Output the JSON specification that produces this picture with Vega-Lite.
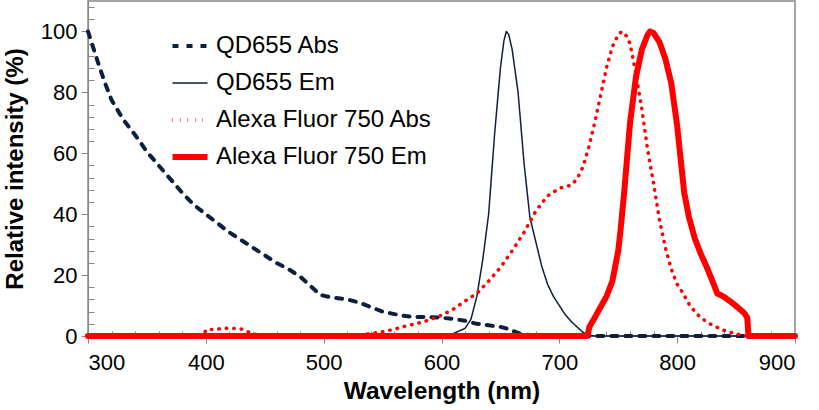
{
  "$schema": "https://vega.github.io/schema/vega-lite/v6.json",
  "autosize": {"type": "none"},
  "width": 707,
  "height": 335,
  "padding": {"left": 88, "top": 1, "right": 24, "bottom": 74},
  "background": "white",
  "config": {
    "font": "Liberation Sans",
    "view": {"stroke": "#888888", "strokeWidth": 1.5},
    "line": {"strokeCap": "round", "strokeJoin": "round", "clip": true},
    "axis": {"grid": false, "domainColor": "#888888", "tickColor": "#888888", "labelColor": "#000000", "titleColor": "#000000", "labelFont": "Liberation Sans", "titleFont": "Liberation Sans"}
  },
  "datasets": {
    "spectra": [
      {"series": "QD655 Abs", "wl": 300, "intensity": 100},
      {"series": "QD655 Abs", "wl": 305, "intensity": 94},
      {"series": "QD655 Abs", "wl": 310, "intensity": 88},
      {"series": "QD655 Abs", "wl": 315, "intensity": 82.5},
      {"series": "QD655 Abs", "wl": 320, "intensity": 77.5},
      {"series": "QD655 Abs", "wl": 330, "intensity": 71},
      {"series": "QD655 Abs", "wl": 340, "intensity": 66},
      {"series": "QD655 Abs", "wl": 350, "intensity": 60.5},
      {"series": "QD655 Abs", "wl": 360, "intensity": 56},
      {"series": "QD655 Abs", "wl": 370, "intensity": 51.5},
      {"series": "QD655 Abs", "wl": 380, "intensity": 47},
      {"series": "QD655 Abs", "wl": 390, "intensity": 43},
      {"series": "QD655 Abs", "wl": 400, "intensity": 40},
      {"series": "QD655 Abs", "wl": 410, "intensity": 37},
      {"series": "QD655 Abs", "wl": 420, "intensity": 34},
      {"series": "QD655 Abs", "wl": 430, "intensity": 31.5},
      {"series": "QD655 Abs", "wl": 440, "intensity": 29},
      {"series": "QD655 Abs", "wl": 450, "intensity": 26.5},
      {"series": "QD655 Abs", "wl": 460, "intensity": 24},
      {"series": "QD655 Abs", "wl": 470, "intensity": 22},
      {"series": "QD655 Abs", "wl": 480, "intensity": 19.5},
      {"series": "QD655 Abs", "wl": 490, "intensity": 16},
      {"series": "QD655 Abs", "wl": 497, "intensity": 13.5},
      {"series": "QD655 Abs", "wl": 505, "intensity": 12.8},
      {"series": "QD655 Abs", "wl": 520, "intensity": 12},
      {"series": "QD655 Abs", "wl": 530, "intensity": 11},
      {"series": "QD655 Abs", "wl": 540, "intensity": 9.5},
      {"series": "QD655 Abs", "wl": 550, "intensity": 8},
      {"series": "QD655 Abs", "wl": 565, "intensity": 6.8},
      {"series": "QD655 Abs", "wl": 575, "intensity": 6.3},
      {"series": "QD655 Abs", "wl": 590, "intensity": 6.2},
      {"series": "QD655 Abs", "wl": 600, "intensity": 6},
      {"series": "QD655 Abs", "wl": 610, "intensity": 5.6},
      {"series": "QD655 Abs", "wl": 620, "intensity": 5},
      {"series": "QD655 Abs", "wl": 630, "intensity": 4},
      {"series": "QD655 Abs", "wl": 640, "intensity": 3.5},
      {"series": "QD655 Abs", "wl": 650, "intensity": 3},
      {"series": "QD655 Abs", "wl": 655, "intensity": 2.5},
      {"series": "QD655 Abs", "wl": 660, "intensity": 1.8},
      {"series": "QD655 Abs", "wl": 665, "intensity": 1},
      {"series": "QD655 Abs", "wl": 670, "intensity": 0.5},
      {"series": "QD655 Abs", "wl": 680, "intensity": 0.2},
      {"series": "QD655 Abs", "wl": 690, "intensity": 0},
      {"series": "QD655 Abs", "wl": 860, "intensity": 0},

      {"series": "QD655 Em", "wl": 300, "intensity": 0},
      {"series": "QD655 Em", "wl": 590, "intensity": 0},
      {"series": "QD655 Em", "wl": 600, "intensity": 0.2},
      {"series": "QD655 Em", "wl": 610, "intensity": 0.8},
      {"series": "QD655 Em", "wl": 620, "intensity": 2.5},
      {"series": "QD655 Em", "wl": 625, "intensity": 5.5},
      {"series": "QD655 Em", "wl": 630, "intensity": 13},
      {"series": "QD655 Em", "wl": 635, "intensity": 25},
      {"series": "QD655 Em", "wl": 640, "intensity": 40},
      {"series": "QD655 Em", "wl": 645, "intensity": 66},
      {"series": "QD655 Em", "wl": 650, "intensity": 88},
      {"series": "QD655 Em", "wl": 653, "intensity": 97},
      {"series": "QD655 Em", "wl": 655, "intensity": 100},
      {"series": "QD655 Em", "wl": 657, "intensity": 99},
      {"series": "QD655 Em", "wl": 660, "intensity": 94},
      {"series": "QD655 Em", "wl": 665, "intensity": 80},
      {"series": "QD655 Em", "wl": 670, "intensity": 57},
      {"series": "QD655 Em", "wl": 675, "intensity": 39},
      {"series": "QD655 Em", "wl": 680, "intensity": 31},
      {"series": "QD655 Em", "wl": 685, "intensity": 23},
      {"series": "QD655 Em", "wl": 690, "intensity": 17},
      {"series": "QD655 Em", "wl": 695, "intensity": 13},
      {"series": "QD655 Em", "wl": 700, "intensity": 10},
      {"series": "QD655 Em", "wl": 705, "intensity": 7},
      {"series": "QD655 Em", "wl": 710, "intensity": 4.8},
      {"series": "QD655 Em", "wl": 715, "intensity": 3},
      {"series": "QD655 Em", "wl": 720, "intensity": 1.2},
      {"series": "QD655 Em", "wl": 725, "intensity": 0.3},
      {"series": "QD655 Em", "wl": 730, "intensity": 0},
      {"series": "QD655 Em", "wl": 900, "intensity": 0},

      {"series": "Alexa Fluor 750 Abs", "wl": 300, "intensity": 0},
      {"series": "Alexa Fluor 750 Abs", "wl": 398, "intensity": 0},
      {"series": "Alexa Fluor 750 Abs", "wl": 400, "intensity": 2},
      {"series": "Alexa Fluor 750 Abs", "wl": 410, "intensity": 2.3},
      {"series": "Alexa Fluor 750 Abs", "wl": 420, "intensity": 2.6},
      {"series": "Alexa Fluor 750 Abs", "wl": 430, "intensity": 2.3},
      {"series": "Alexa Fluor 750 Abs", "wl": 435, "intensity": 1.5},
      {"series": "Alexa Fluor 750 Abs", "wl": 440, "intensity": 0.7},
      {"series": "Alexa Fluor 750 Abs", "wl": 450, "intensity": 0.2},
      {"series": "Alexa Fluor 750 Abs", "wl": 460, "intensity": 0},
      {"series": "Alexa Fluor 750 Abs", "wl": 520, "intensity": 0},
      {"series": "Alexa Fluor 750 Abs", "wl": 528, "intensity": 0.3},
      {"series": "Alexa Fluor 750 Abs", "wl": 540, "intensity": 0.8},
      {"series": "Alexa Fluor 750 Abs", "wl": 550, "intensity": 1.4},
      {"series": "Alexa Fluor 750 Abs", "wl": 560, "intensity": 2.2},
      {"series": "Alexa Fluor 750 Abs", "wl": 570, "intensity": 3.3},
      {"series": "Alexa Fluor 750 Abs", "wl": 580, "intensity": 4.2},
      {"series": "Alexa Fluor 750 Abs", "wl": 590, "intensity": 5.3},
      {"series": "Alexa Fluor 750 Abs", "wl": 600, "intensity": 6.8},
      {"series": "Alexa Fluor 750 Abs", "wl": 610, "intensity": 8.8},
      {"series": "Alexa Fluor 750 Abs", "wl": 620, "intensity": 11.5},
      {"series": "Alexa Fluor 750 Abs", "wl": 630, "intensity": 14},
      {"series": "Alexa Fluor 750 Abs", "wl": 640, "intensity": 18},
      {"series": "Alexa Fluor 750 Abs", "wl": 650, "intensity": 22.5},
      {"series": "Alexa Fluor 750 Abs", "wl": 660, "intensity": 28},
      {"series": "Alexa Fluor 750 Abs", "wl": 670, "intensity": 34},
      {"series": "Alexa Fluor 750 Abs", "wl": 680, "intensity": 41},
      {"series": "Alexa Fluor 750 Abs", "wl": 690, "intensity": 46},
      {"series": "Alexa Fluor 750 Abs", "wl": 700, "intensity": 48.5},
      {"series": "Alexa Fluor 750 Abs", "wl": 710, "intensity": 49.5},
      {"series": "Alexa Fluor 750 Abs", "wl": 715, "intensity": 51.5},
      {"series": "Alexa Fluor 750 Abs", "wl": 720, "intensity": 55.5},
      {"series": "Alexa Fluor 750 Abs", "wl": 725, "intensity": 62},
      {"series": "Alexa Fluor 750 Abs", "wl": 730, "intensity": 70},
      {"series": "Alexa Fluor 750 Abs", "wl": 735, "intensity": 79},
      {"series": "Alexa Fluor 750 Abs", "wl": 740, "intensity": 88},
      {"series": "Alexa Fluor 750 Abs", "wl": 745, "intensity": 95},
      {"series": "Alexa Fluor 750 Abs", "wl": 750, "intensity": 99},
      {"series": "Alexa Fluor 750 Abs", "wl": 753, "intensity": 100},
      {"series": "Alexa Fluor 750 Abs", "wl": 757, "intensity": 98.5},
      {"series": "Alexa Fluor 750 Abs", "wl": 760, "intensity": 96},
      {"series": "Alexa Fluor 750 Abs", "wl": 765, "intensity": 86},
      {"series": "Alexa Fluor 750 Abs", "wl": 770, "intensity": 74.5},
      {"series": "Alexa Fluor 750 Abs", "wl": 775, "intensity": 61},
      {"series": "Alexa Fluor 750 Abs", "wl": 780, "intensity": 50},
      {"series": "Alexa Fluor 750 Abs", "wl": 785, "intensity": 38},
      {"series": "Alexa Fluor 750 Abs", "wl": 790, "intensity": 29},
      {"series": "Alexa Fluor 750 Abs", "wl": 795, "intensity": 22},
      {"series": "Alexa Fluor 750 Abs", "wl": 800, "intensity": 17},
      {"series": "Alexa Fluor 750 Abs", "wl": 805, "intensity": 14},
      {"series": "Alexa Fluor 750 Abs", "wl": 810, "intensity": 10.5},
      {"series": "Alexa Fluor 750 Abs", "wl": 815, "intensity": 8},
      {"series": "Alexa Fluor 750 Abs", "wl": 820, "intensity": 6},
      {"series": "Alexa Fluor 750 Abs", "wl": 830, "intensity": 3.5},
      {"series": "Alexa Fluor 750 Abs", "wl": 840, "intensity": 1.8},
      {"series": "Alexa Fluor 750 Abs", "wl": 850, "intensity": 0.7},
      {"series": "Alexa Fluor 750 Abs", "wl": 855, "intensity": 0.3},
      {"series": "Alexa Fluor 750 Abs", "wl": 860, "intensity": 0},
      {"series": "Alexa Fluor 750 Abs", "wl": 900, "intensity": 0},

      {"series": "Alexa Fluor 750 Em", "wl": 300, "intensity": 0},
      {"series": "Alexa Fluor 750 Em", "wl": 724, "intensity": 0},
      {"series": "Alexa Fluor 750 Em", "wl": 725.5, "intensity": 3},
      {"series": "Alexa Fluor 750 Em", "wl": 730, "intensity": 6},
      {"series": "Alexa Fluor 750 Em", "wl": 735, "intensity": 9.5},
      {"series": "Alexa Fluor 750 Em", "wl": 740, "intensity": 13},
      {"series": "Alexa Fluor 750 Em", "wl": 745, "intensity": 18},
      {"series": "Alexa Fluor 750 Em", "wl": 750, "intensity": 28},
      {"series": "Alexa Fluor 750 Em", "wl": 752, "intensity": 35},
      {"series": "Alexa Fluor 750 Em", "wl": 755, "intensity": 47},
      {"series": "Alexa Fluor 750 Em", "wl": 760, "intensity": 70},
      {"series": "Alexa Fluor 750 Em", "wl": 765, "intensity": 85},
      {"series": "Alexa Fluor 750 Em", "wl": 770, "intensity": 94},
      {"series": "Alexa Fluor 750 Em", "wl": 775, "intensity": 99},
      {"series": "Alexa Fluor 750 Em", "wl": 777, "intensity": 100},
      {"series": "Alexa Fluor 750 Em", "wl": 780, "intensity": 99.5},
      {"series": "Alexa Fluor 750 Em", "wl": 785, "intensity": 96.5},
      {"series": "Alexa Fluor 750 Em", "wl": 790, "intensity": 91},
      {"series": "Alexa Fluor 750 Em", "wl": 795, "intensity": 83},
      {"series": "Alexa Fluor 750 Em", "wl": 800, "intensity": 69},
      {"series": "Alexa Fluor 750 Em", "wl": 803, "intensity": 58},
      {"series": "Alexa Fluor 750 Em", "wl": 806, "intensity": 47},
      {"series": "Alexa Fluor 750 Em", "wl": 810, "intensity": 39},
      {"series": "Alexa Fluor 750 Em", "wl": 815, "intensity": 32},
      {"series": "Alexa Fluor 750 Em", "wl": 820, "intensity": 27},
      {"series": "Alexa Fluor 750 Em", "wl": 825, "intensity": 22.7},
      {"series": "Alexa Fluor 750 Em", "wl": 830, "intensity": 18},
      {"series": "Alexa Fluor 750 Em", "wl": 834, "intensity": 14},
      {"series": "Alexa Fluor 750 Em", "wl": 840, "intensity": 12.8},
      {"series": "Alexa Fluor 750 Em", "wl": 847, "intensity": 10.8},
      {"series": "Alexa Fluor 750 Em", "wl": 852, "intensity": 9.2},
      {"series": "Alexa Fluor 750 Em", "wl": 857, "intensity": 7.5},
      {"series": "Alexa Fluor 750 Em", "wl": 859.5, "intensity": 6},
      {"series": "Alexa Fluor 750 Em", "wl": 860.5, "intensity": 0},
      {"series": "Alexa Fluor 750 Em", "wl": 900, "intensity": 0}
    ]
  },
  "data": {"name": "spectra"},
  "encoding": {
    "x": {"field": "wl", "type": "quantitative", "scale": {"domain": [300, 900], "nice": false, "zero": false}},
    "y": {"field": "intensity", "type": "quantitative", "scale": {"domain": [0, 110], "nice": false}},
    "color": {"field": "series", "type": "nominal", "scale": {"domain": ["QD655 Abs", "QD655 Em", "Alexa Fluor 750 Abs", "Alexa Fluor 750 Em"], "range": ["#0f1e3c", "#0f1e3c", "#ff0000", "#ff0000"]},
      "legend": {"orient": "none", "legendX": 90, "legendY": 33, "title": null, "labelFontSize": 24, "labelFont": "Liberation Sans", "labelColor": "#000000", "symbolType": "stroke", "symbolSize": 1225, "rowPadding": 13, "labelOffset": 14, "labelLimit": 400,
        "symbolFillColor": "transparent",
        "symbolStrokeWidth": {"expr": "datum.value === 'QD655 Abs' ? 4 : datum.value === 'QD655 Em' ? 1.5 : datum.value === 'Alexa Fluor 750 Abs' ? 3.5 : 6"},
        "encode": {"symbols": {"update": {"strokeCap": {"value": "round"}}}}}},
    "strokeDash": {"field": "series", "type": "nominal", "scale": {"domain": ["QD655 Abs", "QD655 Em", "Alexa Fluor 750 Abs", "Alexa Fluor 750 Em"], "range": [[6, 8], [1, 0], [0.5, 7], [1, 0]]}}
  },
  "layer": [
    {
      "transform": [{"filter": "datum.series === 'QD655 Abs'"}],
      "mark": {"type": "line", "strokeWidth": 4},
      "encoding": {
        "x": {"field": "wl", "type": "quantitative", "axis": {"orient": "bottom", "values": [320, 340, 360, 380, 420, 440, 460, 480, 520, 540, 560, 580, 620, 640, 660, 680, 720, 740, 760, 780, 820, 840, 860, 880], "labels": false, "domain": false, "tickSize": 5, "offset": -5, "title": null}},
        "y": {"field": "intensity", "type": "quantitative", "axis": {"orient": "left", "values": [4, 8, 12, 16, 24, 28, 32, 36, 44, 48, 52, 56, 64, 68, 72, 76, 84, 88, 92, 96, 104, 108], "labels": false, "domain": false, "tickSize": 6, "offset": -6, "title": null}}
      }
    },
    {
      "transform": [{"filter": "datum.series === 'QD655 Em'"}],
      "mark": {"type": "line", "strokeWidth": 1.5},
      "encoding": {
        "x": {"field": "wl", "type": "quantitative", "axis": {"orient": "bottom", "values": [300, 400, 500, 600, 700, 800, 900], "tickSize": 7, "labelFontSize": 22, "labelPadding": 9, "title": "Wavelength (nm)", "titleFontSize": 24.5, "titleFontWeight": "bold", "titlePadding": 6}},
        "y": {"field": "intensity", "type": "quantitative", "axis": {"orient": "left", "values": [0, 20, 40, 60, 80, 100], "tickSize": 7, "labelFontSize": 22, "labelPadding": 4, "title": "Relative intensity (%)", "titleFontSize": 24, "titleFontWeight": "bold", "titlePadding": 13}}
      }
    },
    {
      "transform": [{"filter": "datum.series === 'Alexa Fluor 750 Abs'"}],
      "mark": {"type": "line", "strokeWidth": 3.5},
      "encoding": {
        "x": {"field": "wl", "type": "quantitative", "axis": null},
        "y": {"field": "intensity", "type": "quantitative", "axis": null}
      }
    },
    {
      "transform": [{"filter": "datum.series === 'Alexa Fluor 750 Em'"}],
      "mark": {"type": "line", "strokeWidth": 6},
      "encoding": {
        "x": {"field": "wl", "type": "quantitative", "axis": null},
        "y": {"field": "intensity", "type": "quantitative", "axis": null}
      }
    }
  ],
  "resolve": {"axis": {"x": "independent", "y": "independent"}}
}
